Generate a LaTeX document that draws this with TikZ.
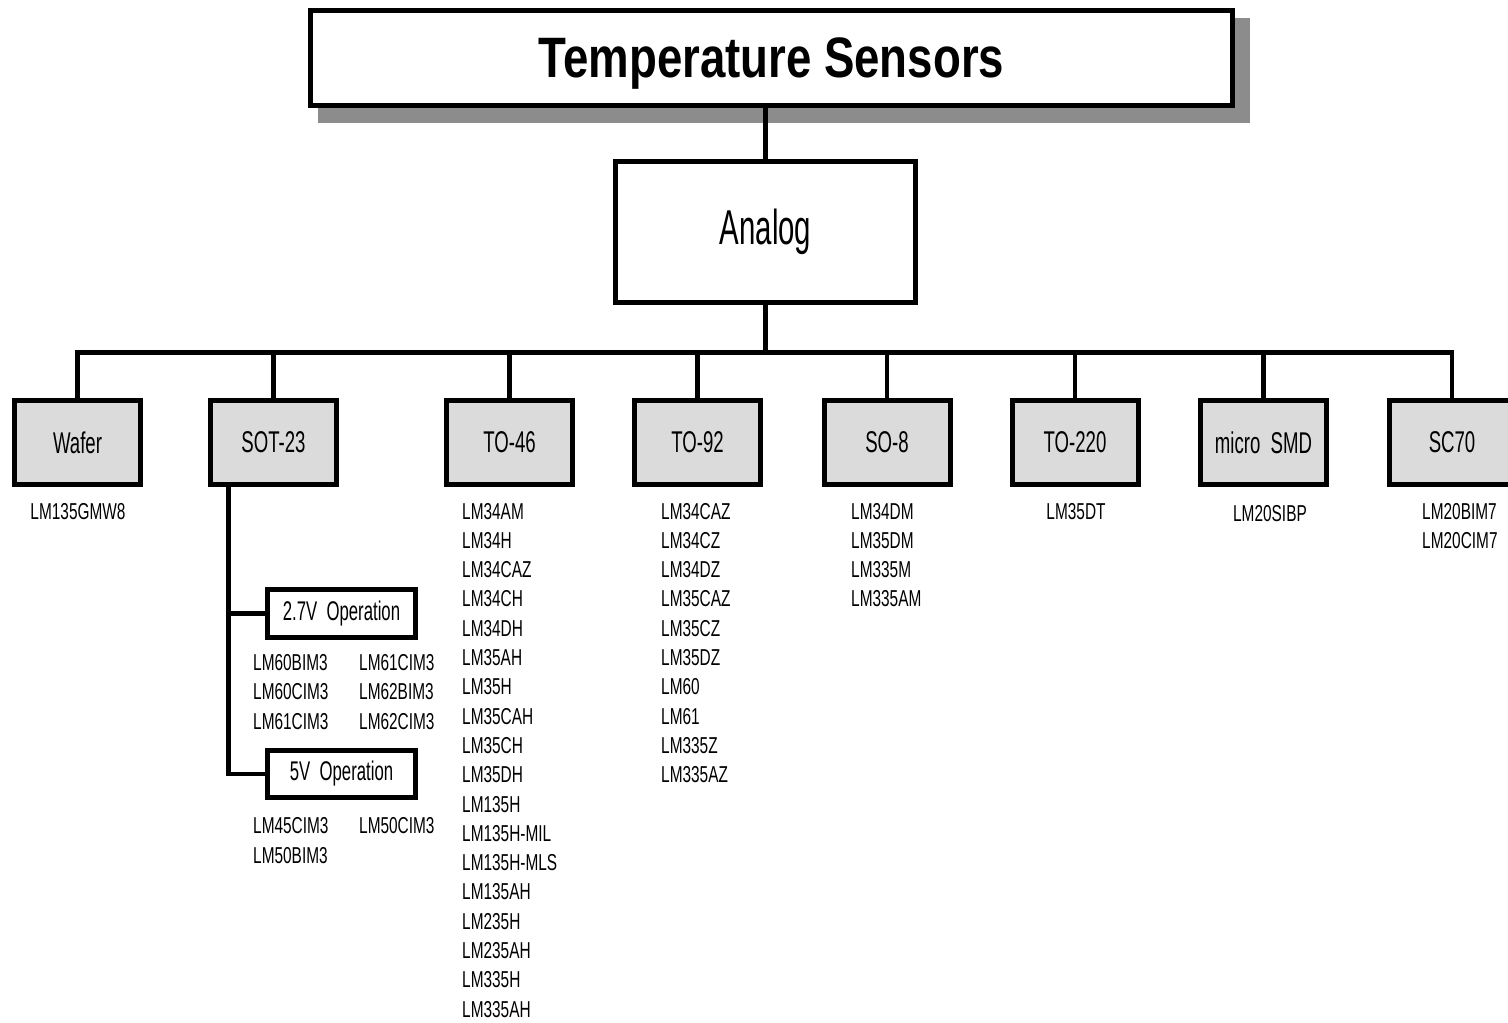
\documentclass[tikz,border=0pt]{standalone}
\usepackage{fontspec}
\usetikzlibrary{backgrounds}
\newfontfamily\fnttitle[FakeStretch=0.8]{Liberation Sans}
\newfontfamily\fntanalog[FakeStretch=0.6]{Liberation Sans}
\newfontfamily\fntpkg[FakeStretch=0.62]{Liberation Sans}
\newfontfamily\fntlist[FakeStretch=0.67]{Liberation Sans}
\newfontfamily\fntop[FakeStretch=0.62]{Liberation Sans}
\definecolor{boxgrey}{gray}{0.86}
\definecolor{shadowgrey}{gray}{0.55}
\begin{document}
\begin{tikzpicture}[x=1pt,y=-1pt,
  conn/.style={line width=4.5pt},
  mainbox/.style={draw, line width=5pt, fill=white, inner sep=0pt},
  pkgbox/.style={draw, line width=5pt, fill=boxgrey, inner sep=0pt,
    minimum width=126pt, minimum height=84pt,
    font=\fntpkg\fontsize{30}{30}\selectfont},
  opbox/.style={draw, line width=5pt, fill=white, inner sep=0pt,
    minimum width=148pt, minimum height=48pt,
    font=\fntop\fontsize{27}{27}\selectfont},
  lst/.style={inner sep=0pt, font=\fntlist\fontsize{23}{23}\selectfont}
]
\useasboundingbox (0,0) rectangle (1508,1023);

% title
\node[mainbox, minimum width=922pt, minimum height=95pt, text depth=0pt,
  font=\fnttitle\bfseries\fontsize{57}{57}\selectfont] (title) at (771.5,58) {Temperature Sensors};
\begin{scope}[on background layer]
  \fill[shadowgrey] ([shift={(9.5,9.5)}]title.north west) rectangle ([shift={(14.5,14.5)}]title.south east);
\end{scope}

% analog
\node[mainbox, minimum width=300pt, minimum height=141pt,
  font=\fntanalog\fontsize{49}{49}\selectfont] (analog) at (765.5,232) {Analog};

\draw[conn] (analog.north |- title.south) -- (analog.north);

% packages
\node[pkgbox] (wafer) at (77.5,442.5) {Wafer};
\node[pkgbox] (sot)   at (273.5,442.5) {SOT-23};
\node[pkgbox] (to46)  at (509.5,442.5) {TO-46};
\node[pkgbox] (to92)  at (697.5,442.5) {TO-92};
\node[pkgbox] (so8)   at (887,442.5) {SO-8};
\node[pkgbox] (to220) at (1075,442.5) {TO-220};
\node[pkgbox] (smd)   at (1263.5,442.5) {micro\ \ SMD};
\node[pkgbox] (sc70)  at (1452,442.5) {SC70};

\coordinate (bus) at (765.5,352.5);
\draw[conn] (analog.south) -- (analog.south |- bus);
\draw[conn] (wafer.north) -- (wafer.north |- bus) -- (sc70.north |- bus) -- (sc70.north);
\foreach \n in {sot,to46,to92,so8,to220,smd}
  \draw[conn] (\n.north |- bus) -- (\n.north);

% SOT-23 sub boxes
\node[opbox] (op27) at (341.5,613.5) {2.7V\ \ Operation};
\node[opbox, minimum height=47pt] (op5) at (341.5,774) {5V\ \ Operation};
\coordinate (sotdrop) at ([xshift=-45pt]sot.south);
\draw[conn] (sotdrop) |- (op5.west);
\draw[conn] (sotdrop |- op27.west) -- (op27.west);

% lists
\node[lst, anchor=base] (l-wafer) at (78,519) {LM135GMW8};
\node[lst, anchor=base] (l-to220) at (1076,519) {LM35DT};
\node[lst, anchor=base] (l-smd) at (1270,521) {LM20SIBP};

\foreach \t [count=\i from 0] in {LM34AM,LM34H,LM34CAZ,LM34CH,LM34DH,LM35AH,LM35H,LM35CAH,LM35CH,LM35DH,LM135H,LM135H-MIL,LM135H-MLS,LM135AH,LM235H,LM235AH,LM335H,LM335AH}
  \node[lst, anchor=base west] (l-to46-\i) at (462,519+\i*29.3) {\t};

\foreach \t [count=\i from 0] in {LM34CAZ,LM34CZ,LM34DZ,LM35CAZ,LM35CZ,LM35DZ,LM60,LM61,LM335Z,LM335AZ}
  \node[lst, anchor=base west] (l-to92-\i) at (661,519+\i*29.3) {\t};

\foreach \t [count=\i from 0] in {LM34DM,LM35DM,LM335M,LM335AM}
  \node[lst, anchor=base west] (l-so8-\i) at (851,519+\i*29.3) {\t};

\foreach \t [count=\i from 0] in {LM20BIM7,LM20CIM7}
  \node[lst, anchor=base west] (l-sc70-\i) at (1422,519+\i*29.3) {\t};

\foreach \t [count=\i from 0] in {LM60BIM3,LM60CIM3,LM61CIM3}
  \node[lst, anchor=base west] (l-a-\i) at (253,670+\i*29.5) {\t};
\foreach \t [count=\i from 0] in {LM61CIM3,LM62BIM3,LM62CIM3}
  \node[lst, anchor=base west] (l-b-\i) at (359,670+\i*29.5) {\t};

\node[lst, anchor=base west] (l-c-0) at (253,833) {LM45CIM3};
\node[lst, anchor=base west] (l-c-1) at (253,863) {LM50BIM3};
\node[lst, anchor=base west] (l-d-0) at (359,833) {LM50CIM3};
\end{tikzpicture}
\end{document}
